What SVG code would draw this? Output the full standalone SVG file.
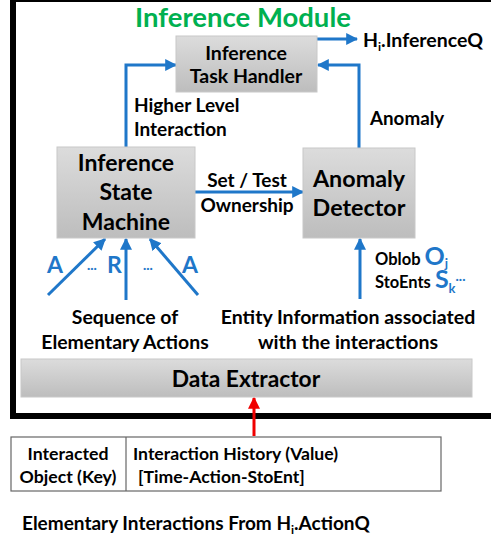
<svg xmlns="http://www.w3.org/2000/svg" width="491" height="539" viewBox="0 0 491 539">
<style>
text{font-family:Lato,"Open Sans","Liberation Sans",sans-serif;font-weight:bold;fill:#000}
.box{fill:url(#g);stroke:#c8c8c8;stroke-width:1}
.c{text-anchor:middle}
.bl{fill:#1f77c9}
.conn{stroke:#1f77c9;stroke-width:3;fill:none}
</style>
<defs>
<linearGradient id="g" x1="0" y1="0" x2="0" y2="1">
<stop offset="0" stop-color="#dcdcdc"/>
<stop offset="1" stop-color="#bdbdbd"/>
</linearGradient>
<marker id="ah" viewBox="0 0 10 10" refX="9" refY="5" markerWidth="4" markerHeight="4" orient="auto" markerUnits="strokeWidth">
<path d="M0,0 L10,5 L0,10 z" fill="#1f77c9"/>
</marker>
<marker id="ahr" viewBox="0 0 10 10" refX="9" refY="5" markerWidth="4" markerHeight="4" orient="auto" markerUnits="strokeWidth">
<path d="M0,0 L10,5 L0,10 z" fill="#f00000"/>
</marker>
</defs>
<rect x="0" y="0" width="491" height="539" fill="#fff"/>
<rect id="frame" x="13" y="-1" width="500" height="417" fill="none" stroke="#000" stroke-width="6"/>
<text id="title" x="243" y="27" class="c" style="font-size:27.5px;fill:#00b050">Inference Module</text>

<g id="connectors">
<line class="conn" x1="317" y1="39" x2="357" y2="39" marker-end="url(#ah)"/>
<polyline class="conn" points="126,147 126,65 176,65" marker-end="url(#ah)"/>
<polyline class="conn" points="359,148 359,65 318,65" marker-end="url(#ah)"/>
<line class="conn" x1="195" y1="192" x2="303" y2="192" marker-end="url(#ah)"/>
<line class="conn" x1="48" y1="295" x2="105" y2="239" marker-end="url(#ah)"/>
<line class="conn" x1="126" y1="300" x2="126" y2="239" marker-end="url(#ah)"/>
<line class="conn" x1="198" y1="295" x2="150" y2="239" marker-end="url(#ah)"/>
<line class="conn" x1="360" y1="299" x2="360" y2="239" marker-end="url(#ah)"/>
<line x1="254" y1="436" x2="254" y2="398" stroke="#f00000" stroke-width="3" marker-end="url(#ahr)"/>
</g>

<g id="task-handler">
<rect class="box" x="176" y="36" width="141" height="56"/>
<text x="246" y="60" class="c" style="font-size:19.5px">Inference</text>
<text x="246" y="83" class="c" style="font-size:19.5px">Task Handler</text>
</g>
<g id="inferenceq">
<text x="363" y="47" style="font-size:19.5px">H<tspan dy="4" style="font-size:12px">i</tspan><tspan dy="-4">.InferenceQ</tspan></text>
</g>
<g id="higher-level">
<text x="134" y="112" style="font-size:19px">Higher Level</text>
<text x="134" y="136" style="font-size:19px">Interaction</text>
</g>
<g id="anomaly-label">
<text x="370" y="125" style="font-size:18.8px">Anomaly</text>
</g>

<g id="state-machine">
<rect class="box" x="57" y="147" width="138" height="91"/>
<text x="126" y="171" class="c" style="font-size:23px">Inference</text>
<text x="126" y="200" class="c" style="font-size:23px">State</text>
<text x="126" y="230" class="c" style="font-size:23px">Machine</text>
</g>
<g id="set-test">
<text x="247" y="187" class="c" style="font-size:19px">Set / Test</text>
<text x="247" y="212" class="c" style="font-size:19px">Ownership</text>
</g>
<g id="anomaly-detector">
<rect class="box" x="303" y="148" width="112" height="90"/>
<text x="359" y="187" class="c" style="font-size:23.3px">Anomaly</text>
<text x="359" y="216" class="c" style="font-size:23.3px">Detector</text>
</g>

<g id="actions">
<text x="47" y="273" class="bl" style="font-size:23px">A</text>
<text x="87" y="272" class="bl" style="font-size:12px">···</text>
<text x="107" y="273" class="bl" style="font-size:23px">R</text>
<text x="143" y="272" class="bl" style="font-size:12px">···</text>
<text x="182" y="273" class="bl" style="font-size:23px">A</text>
</g>
<g id="entity-symbols">
<text x="375" y="265" style="font-size:16.5px">Oblob <tspan class="bl" style="font-size:25px">O</tspan><tspan class="bl" dy="3" style="font-size:13px">j</tspan></text>
<text x="375" y="288" style="font-size:16.5px">StoEnts <tspan class="bl" style="font-size:25px">S</tspan><tspan class="bl" dy="5" style="font-size:13px">k</tspan><tspan class="bl" dy="-10" style="font-size:12px">···</tspan></text>
</g>
<g id="sequence-label">
<text x="125" y="324" class="c" style="font-size:19.4px">Sequence of</text>
<text x="125" y="349" class="c" style="font-size:19.4px">Elementary Actions</text>
</g>
<g id="entity-label">
<text x="348" y="324" class="c" style="font-size:19.5px">Entity Information associated</text>
<text x="348" y="349" class="c" style="font-size:19.5px">with the interactions</text>
</g>

<g id="data-extractor">
<rect class="box" x="21" y="359" width="451" height="38"/>
<text x="246" y="387" class="c" style="font-size:22.8px">Data Extractor</text>
</g>

<g id="table">
<rect x="11" y="437" width="430" height="54" fill="#fff" stroke="#666" stroke-width="1.2"/>
<line x1="126" y1="437" x2="126" y2="491" stroke="#666" stroke-width="1.2"/>
<text x="68" y="460" class="c" style="font-size:17.7px">Interacted</text>
<text x="68" y="483" class="c" style="font-size:17.7px">Object (Key)</text>
<text x="133" y="460" style="font-size:17.6px">Interaction History (Value)</text>
<text x="138" y="483" style="font-size:17.6px">[Time-Action-StoEnt]</text>
</g>

<g id="caption">
<text x="22" y="530" style="font-size:19px">Elementary Interactions From H<tspan dy="4" style="font-size:12px">i</tspan><tspan dy="-4">.ActionQ</tspan></text>
</g>
</svg>
